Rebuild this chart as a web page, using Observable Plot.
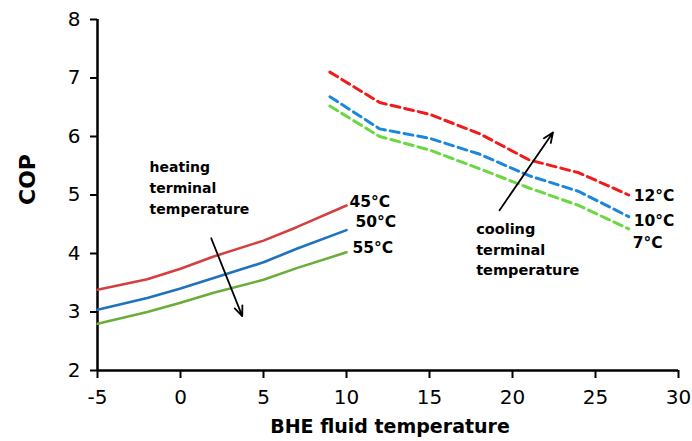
<!DOCTYPE html>
<html>
<head>
<meta charset="utf-8">
<script src="https://cdn.jsdelivr.net/npm/d3@7"></script>
<script src="https://cdn.jsdelivr.net/npm/@observablehq/plot@0.6"></script>
<style>
  html, body { margin: 0; padding: 0; background: #fff; }
  #chart { width: 692px; height: 441px; }
</style>
</head>
<body>
<div id="chart"></div>
<script>
// Heating mode (solid lines): BHE fluid temperature vs COP, per heating terminal temperature
const heatX  = [-5, -2, 0, 2, 5, 7, 10];
const heat45 = [3.38, 3.56, 3.74, 3.95, 4.22, 4.45, 4.82];
const heat50 = [3.04, 3.24, 3.40, 3.58, 3.85, 4.08, 4.40];
const heat55 = [2.80, 3.00, 3.16, 3.33, 3.55, 3.75, 4.02];

// Cooling mode (dashed lines), per cooling terminal temperature
const coolX  = [9, 12, 15, 18, 21, 24, 27];
const cool12 = [7.10, 6.58, 6.38, 6.05, 5.60, 5.38, 5.00];
const cool10 = [6.68, 6.13, 5.97, 5.70, 5.33, 5.06, 4.63];
const cool7  = [6.52, 6.00, 5.77, 5.45, 5.12, 4.82, 4.42];

const heatNames = ["45°C", "50°C", "55°C"];
const coolNames = ["12°C", "10°C", "7°C"];

const xTicks = [-5, 0, 5, 10, 15, 20, 25, 30];
const yTicks = [2, 3, 4, 5, 6, 7, 8];

// Annotation arrows (data coordinates)
const heatArrow = {x1: 1.85, y1: 4.26, x2: 3.72, y2: 2.93};
const coolArrow = {x1: 19.22, y1: 4.74, x2: 22.44, y2: 6.07};
const heatNote = {x: -1.86, y: 5.15, text: "heating\nterminal\ntemperature"};
const coolNote = {x: 17.81, y: 4.09, text: "cooling\nterminal\ntemperature"};

const heatSeries = [heat45, heat50, heat55];
const coolSeries = [cool12, cool10, cool7];
const heatColors = ["#d4403f", "#1f72bd", "#6aad3b"];
const coolColors = ["#f21b1b", "#1b87dc", "#6bd842"];

const heatRows = heatSeries.flatMap((s, i) => s.map((v, j) => ({x: heatX[j], y: v, name: heatNames[i]})));
const coolRows = coolSeries.flatMap((s, i) => s.map((v, j) => ({x: coolX[j], y: v, name: coolNames[i]})));

const heatEnds = heatSeries.map((s, i) => ({x: heatX[heatX.length - 1], y: s[s.length - 1], name: heatNames[i]}));
const coolEnds = coolSeries.map((s, i) => ({x: coolX[coolX.length - 1], y: s[s.length - 1], name: coolNames[i]}));

const heatLabelOffsets = [[3, -3], [9, -8], [6, -4]];
const coolLabelOffsets = [[5, 1], [5, 4], [4, 14]];

const font = "DejaVu Sans, sans-serif";

const marks = [
  Plot.axisX({ticks: xTicks, tickSize: 8, tickPadding: 11, fontSize: 20, strokeWidth: 2, label: null, tickFormat: d => String(d)}),
  Plot.axisY({ticks: yTicks, tickSize: 7, tickPadding: 10, fontSize: 20, strokeWidth: 2, label: null, tickFormat: d => String(d)}),
  Plot.ruleX([-5], {stroke: "black", strokeWidth: 2.5}),
  Plot.ruleY([2], {stroke: "black", strokeWidth: 2.5}),
];

heatNames.forEach((n, i) => {
  marks.push(Plot.line(heatRows.filter(d => d.name === n), {x: "x", y: "y", stroke: heatColors[i], strokeWidth: 2.6}));
});
coolNames.forEach((n, i) => {
  marks.push(Plot.line(coolRows.filter(d => d.name === n), {x: "x", y: "y", stroke: coolColors[i], strokeWidth: 3, strokeDasharray: "9,5"}));
});

heatEnds.forEach((d, i) => {
  marks.push(Plot.text([d], {x: "x", y: "y", text: "name", textAnchor: "start", dx: heatLabelOffsets[i][0], dy: heatLabelOffsets[i][1], fontSize: 15.5, fontWeight: "bold", fill: "black"}));
});
coolEnds.forEach((d, i) => {
  marks.push(Plot.text([d], {x: "x", y: "y", text: "name", textAnchor: "start", dx: coolLabelOffsets[i][0], dy: coolLabelOffsets[i][1], fontSize: 15.5, fontWeight: "bold", fill: "black"}));
});

marks.push(
  Plot.arrow([heatArrow], {x1: "x1", y1: "y1", x2: "x2", y2: "y2", stroke: "black", strokeWidth: 1.8, headLength: 9, headAngle: 45}),
  Plot.arrow([coolArrow], {x1: "x1", y1: "y1", x2: "x2", y2: "y2", stroke: "black", strokeWidth: 1.8, headLength: 9, headAngle: 45}),
  Plot.text([heatNote], {x: "x", y: "y", text: "text", textAnchor: "start", fontSize: 14, fontWeight: "bold", lineHeight: 1.5, fill: "black"}),
  Plot.text([coolNote], {x: "x", y: "y", text: "text", textAnchor: "start", fontSize: 14.5, lineHeight: 1.4, fontWeight: "bold", fill: "black"}),
  Plot.text(["COP"], {frameAnchor: "left", rotate: -90, dx: -70, dy: 10, fontSize: 22, fontWeight: "bold", fill: "black"}),
  Plot.text(["BHE fluid temperature"], {frameAnchor: "bottom", lineAnchor: "middle", dx: 2, dy: 56, fontSize: 19, fontWeight: "bold", fill: "black"})
);

const chart = Plot.plot({
  width: 692,
  height: 441,
  marginLeft: 97,
  marginRight: 14,
  marginTop: 19,
  marginBottom: 71,
  style: {fontFamily: font, background: "white", color: "black", overflow: "visible"},
  x: {domain: [-5, 30]},
  y: {domain: [2, 8]},
  marks
});
document.getElementById("chart").appendChild(chart);
</script>
</body>
</html>
